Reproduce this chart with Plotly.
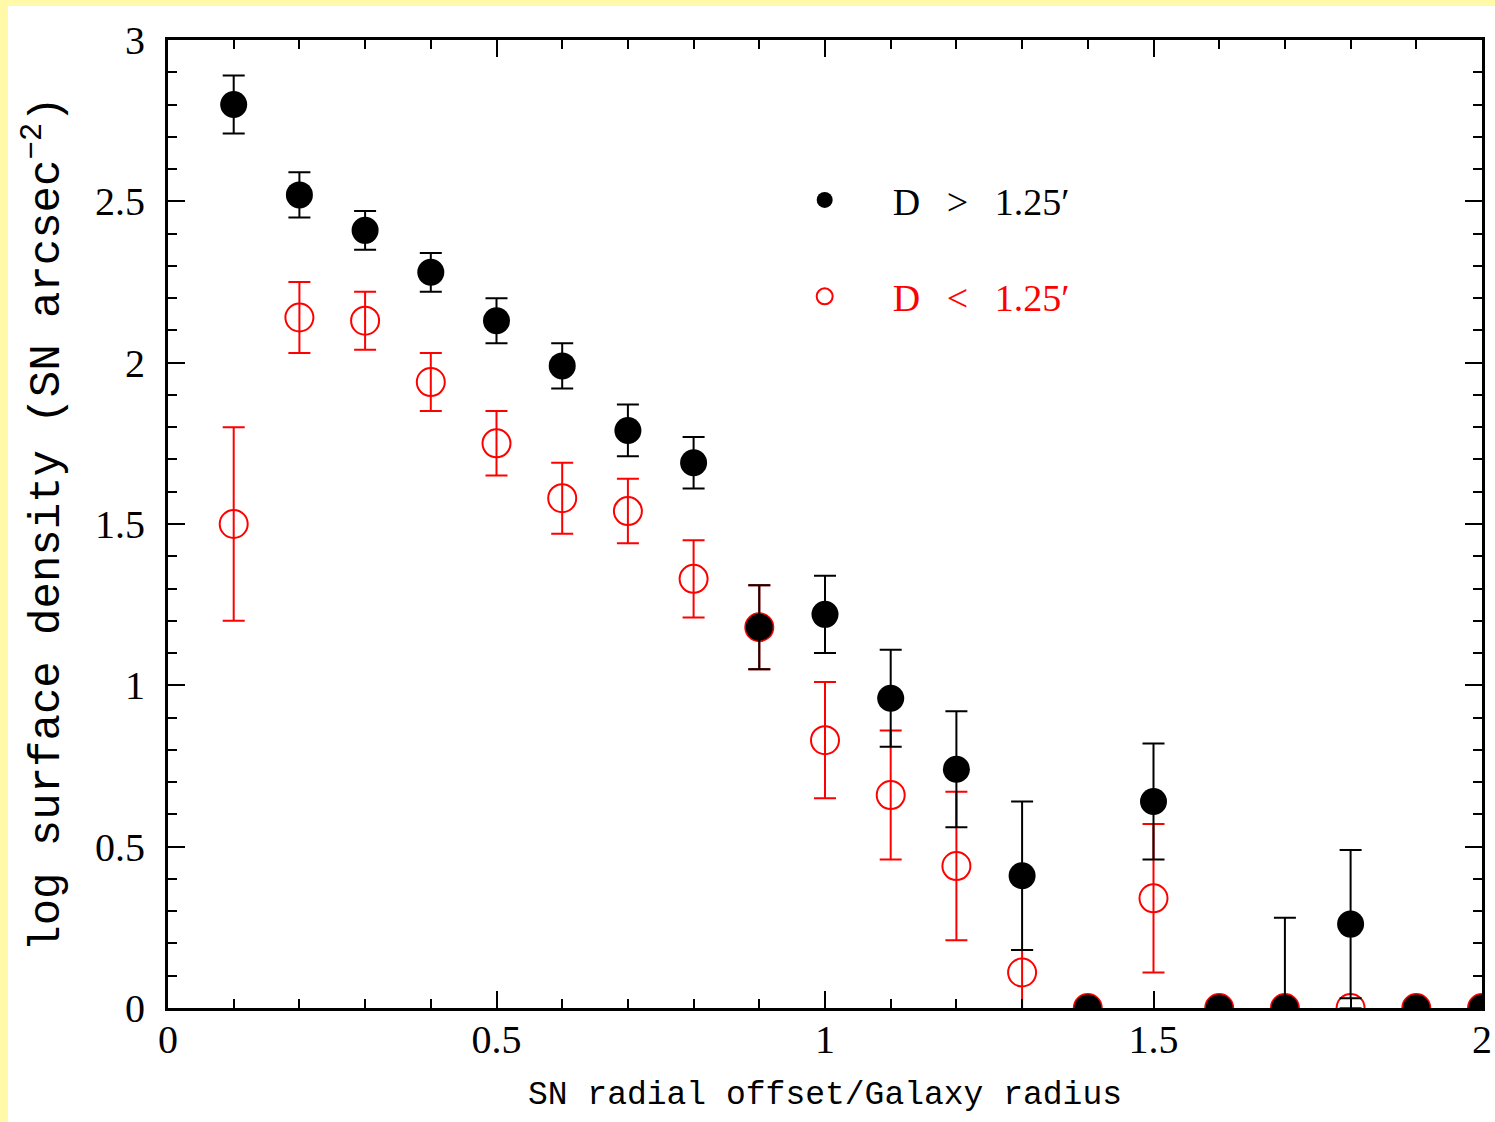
import plotly.graph_objects as go

x_vals = [0.1, 0.2, 0.3, 0.4, 0.5, 0.6, 0.7, 0.8, 0.9, 1.0,
          1.1, 1.2, 1.3, 1.4, 1.5, 1.6, 1.7, 1.8, 1.9, 2.0]

# D > 1.25'
big_y   = [2.80, 2.52, 2.41, 2.28, 2.13, 1.99, 1.79, 1.69, 1.18, 1.22,
           0.96, 0.74, 0.41, 0.0, 0.64, 0.0, 0.0, 0.26, 0.0, 0.0]
big_err = [0.09, 0.07, 0.06, 0.06, 0.07, 0.07, 0.08, 0.08, 0.13, 0.12,
           0.15, 0.18, 0.23, 0.0, 0.18, 0.0, 0.28, 0.23, 0.0, 0.0]

# D < 1.25'
small_y        = [1.50, 2.14, 2.13, 1.94, 1.75, 1.58, 1.54, 1.33, 1.18, 0.83,
                  0.66, 0.44, 0.11, 0.0, 0.34, 0.0, 0.0, 0.0, 0.0, 0.0]
small_err_up   = [0.30, 0.11, 0.09, 0.09, 0.10, 0.11, 0.10, 0.12, 0.13, 0.18,
                  0.20, 0.23, 0.07, 0.0, 0.23, 0.0, 0.0, 0.0, 0.0, 0.0]
small_err_down = [0.30, 0.11, 0.09, 0.09, 0.10, 0.11, 0.10, 0.12, 0.13, 0.18,
                  0.20, 0.23, 0.23, 0.0, 0.23, 0.0, 0.0, 0.0, 0.0, 0.0]

x_ticks = [0, 0.5, 1, 1.5, 2]
y_ticks = [0, 0.5, 1, 1.5, 2, 2.5, 3]

W, H = 1495, 1122
L, R, T, B = 168, 13, 40, 114
pw, ph = W - L - R, H - T - B
NB = "\u00a0"
SP = NB * 2 + "\u2009"

fig = go.Figure()

fig.add_trace(go.Scatter(
    x=x_vals, y=small_y, mode="markers",
    name=f"<span style='color:red'>D{SP}&lt;{SP}1.25′</span>",
    legendgroup="b", legendrank=2,
    marker=dict(symbol="circle-open", size=28, color="red", line=dict(color="red", width=2)),
    error_y=dict(type="data", array=small_err_up, arrayminus=small_err_down, symmetric=False,
                 visible=True, color="red", thickness=2, width=11),
))

fig.add_trace(go.Scatter(
    x=x_vals, y=big_y, mode="markers",
    name=f"D{SP}&gt;{SP}1.25′",
    legendgroup="a", legendrank=1,
    marker=dict(symbol="circle", size=27, color="black"),
    error_y=dict(type="data", array=big_err, visible=True, color="black", thickness=2, width=11),
))

axis_common = dict(
    showline=True, linecolor="black", linewidth=3, mirror="ticks",
    ticks="inside", ticklen=17, tickwidth=2, tickcolor="black",
    showgrid=False, zeroline=False, automargin=False,
    tickfont=dict(family="Liberation Serif", size=40, color="black"),
    minor=dict(ticks="inside", ticklen=9, tickwidth=2, tickcolor="black", dtick=0.1, showgrid=False),
)

fig.update_xaxes(range=[0, 2], tickvals=x_ticks, ticktext=[str(v) for v in x_ticks],
                 ticklabelstandoff=-6,
                 title=dict(text="SN radial offset/Galaxy radius" + NB,
                            font=dict(family="Liberation Mono", size=33, color="black"), standoff=20),
                 **axis_common)
fig.update_yaxes(range=[0, 3], tickvals=y_ticks, ticktext=[str(v) for v in y_ticks],
                 ticklabelstandoff=12,
                 title=dict(text="log surface density (SN arcsec<sup>−2</sup>)" + NB,
                            font=dict(family="Liberation Mono", size=44, color="black"), standoff=22),
                 **axis_common)

fig.update_layout(
    width=W, height=H, autosize=False,
    margin=dict(l=L, r=R, t=T, b=B, autoexpand=False),
    paper_bgcolor="#FFF9A8",
    plot_bgcolor="white",
    showlegend=True,
    legend=dict(
        x=0.448, y=0.867, xanchor="left", yanchor="top",
        bgcolor="rgba(0,0,0,0)", borderwidth=0,
        font=dict(family="Liberation Serif", size=38, color="black"),
        traceorder="grouped", tracegroupgap=44, itemwidth=126,
    ),
    shapes=[dict(type="rect", xref="paper", yref="paper",
                 x0=(8 - L) / pw, x1=1.05, y0=-0.2, y1=(H - B - 6) / ph,
                 fillcolor="white", line=dict(width=0), layer="below")],
)

fig.write_html("out.html", config={"displayModeBar": False},
               post_script="document.body.style.margin='0px';document.body.style.overflow='hidden';")
